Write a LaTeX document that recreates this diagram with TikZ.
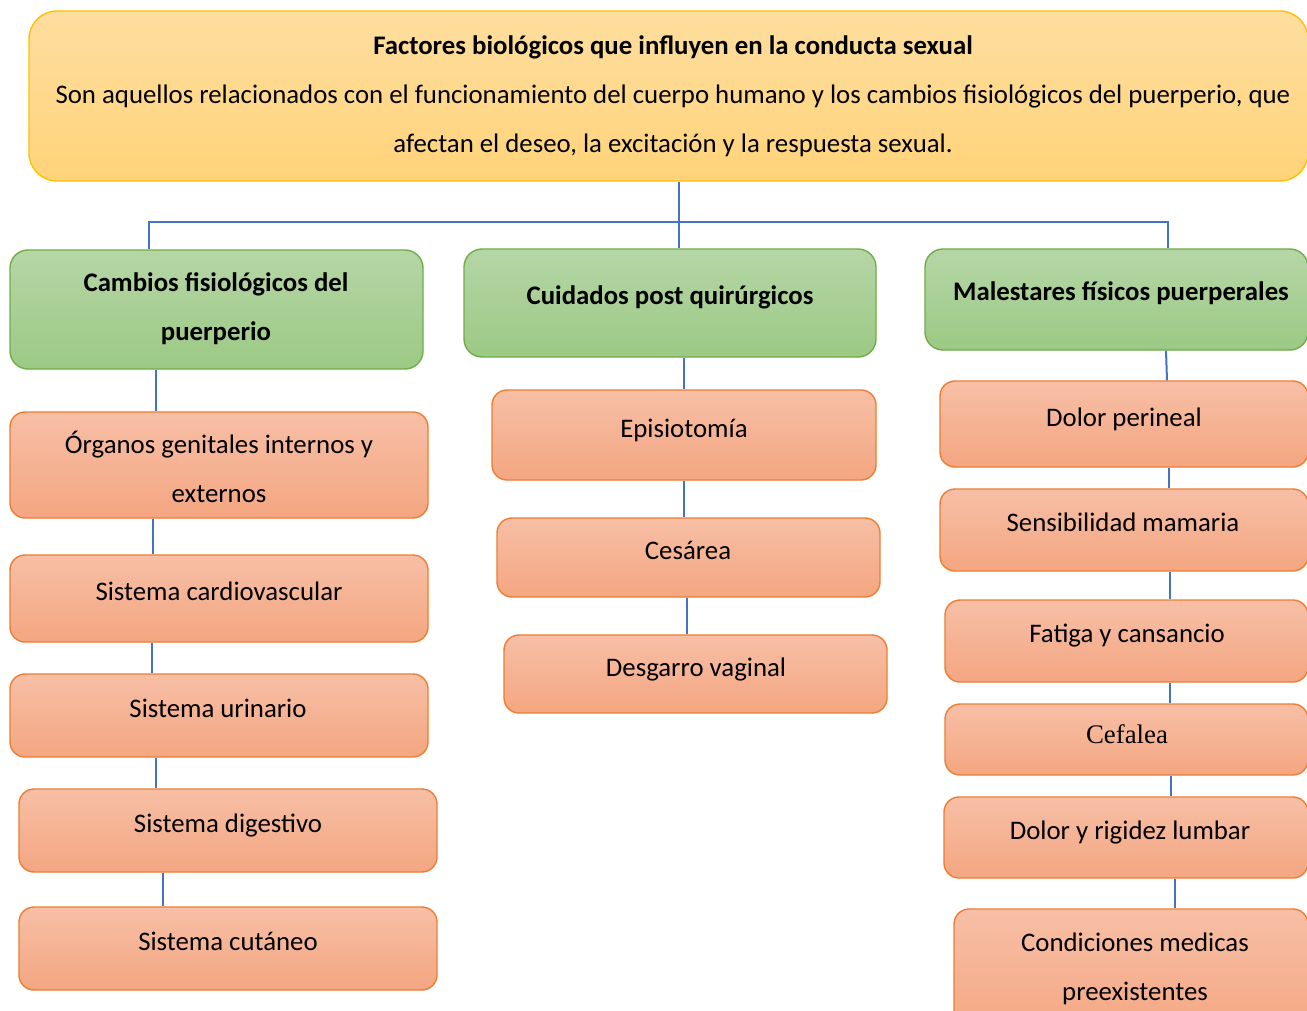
\documentclass[tikz,border=0pt]{standalone}
\usepackage{fontspec}
\setmainfont{Carlito}
\newfontfamily\timesf{Liberation Serif}
\definecolor{topT}{HTML}{FEDE9F}
\definecolor{topB}{HTML}{FFD37A}
\definecolor{topD}{HTML}{FFC000}
\definecolor{grT}{HTML}{B5D6A6}
\definecolor{grB}{HTML}{9CC985}
\definecolor{grD}{HTML}{70AD47}
\definecolor{orT}{HTML}{F7BFA6}
\definecolor{orB}{HTML}{F4A681}
\definecolor{orD}{HTML}{ED7D31}
\definecolor{conblue}{HTML}{4472C4}
\newcommand{\fsz}{\fontsize{26.8}{49}\selectfont}
\begin{document}
\begin{tikzpicture}[x=1pt,y=-1pt,
  box/.style={inner sep=0pt, line width=1.4pt, rounded corners=#1},
  topbox/.style={box=28pt, draw=topD, top color=topT, bottom color=topB},
  gbox/.style={box=18pt, draw=grD, top color=grT, bottom color=grB},
  obox/.style={box=15pt, draw=orD, top color=orT, bottom color=orB},
  txt/.style={inner sep=0pt, align=center, font=\fsz},
  one/.style={txt, text height=20pt, text depth=4pt},
  conn/.style={draw=conblue, line width=2pt}]
\useasboundingbox (0,0) rectangle (1307,1011);
\clip (0,0) rectangle (1307,1011);
% boxes
\node[topbox, minimum width=1279pt, minimum height=170pt] (top) at (668.5,96) {};
\node[gbox, minimum width=413pt, minimum height=119pt] (g1) at (216.5,309.5) {};
\node[gbox, minimum width=412pt, minimum height=108pt] (g2) at (670,303) {};
\node[gbox, minimum width=383pt, minimum height=101pt] (g3) at (1116.5,299.5) {};
\node[obox, minimum width=418pt, minimum height=106pt] (o1) at (219,465) {};
\node[obox, minimum width=418pt, minimum height=87pt] (o2) at (219,598.5) {};
\node[obox, minimum width=418pt, minimum height=83pt] (o3) at (219,715.5) {};
\node[obox, minimum width=418pt, minimum height=83pt] (o4) at (228,830.5) {};
\node[obox, minimum width=418pt, minimum height=83pt] (o5) at (228,948.5) {};
\node[obox, minimum width=384pt, minimum height=90pt] (m1) at (684,435) {};
\node[obox, minimum width=383pt, minimum height=79pt] (m2) at (688.5,557.5) {};
\node[obox, minimum width=383pt, minimum height=78pt] (m3) at (695.5,674) {};
\node[obox, minimum width=368pt, minimum height=86pt] (r1) at (1124,424) {};
\node[obox, minimum width=368pt, minimum height=82pt] (r2) at (1124,530) {};
\node[obox, minimum width=363pt, minimum height=82pt] (r3) at (1126.5,641) {};
\node[obox, minimum width=363pt, minimum height=71pt] (r4) at (1126.5,739.5) {};
\node[obox, minimum width=364pt, minimum height=81pt] (r5) at (1126,837.5) {};
\node[obox, minimum width=354pt, minimum height=130pt] (r6) at (1131,974) {};
% texts
\node[txt] (ttop) at (673,96) {\textbf{Factores biológicos que influyen en la conducta sexual}\\
  Son aquellos relacionados con el funcionamiento del cuerpo humano y los cambios fisiológicos del puerperio, que\\
  afectan el deseo, la excitación y la respuesta sexual.};
\node[txt, font=\fsz\bfseries] (tg1) at (216,308.5) {Cambios fisiológicos del\\puerperio};
\node[one, font=\fsz\bfseries] (tg2) at (670,297) {Cuidados post quirúrgicos};
\node[one, font=\fsz\bfseries] (tg3) at (1121,293) {Malestares físicos puerperales};
\node[txt] (to1) at (219,467) {Órganos genitales internos y\\externos};
\node[one] (to2) at (219,592) {Sistema cardiovascular};
\node[one] (to3) at (218,709) {Sistema urinario};
\node[one] (to4) at (228,824) {Sistema digestivo};
\node[one] (to5) at (228,942) {Sistema cutáneo};
\node[one] (tm1) at (684,429) {Episiotomía};
\node[one] (tm2) at (688,551) {Cesárea};
\node[one] (tm3) at (696,668) {Desgarro vaginal};
\node[one] (tr1) at (1124,418) {Dolor perineal};
\node[one] (tr2) at (1123,523) {Sensibilidad mamaria};
\node[one] (tr3) at (1127,634) {Fatiga y cansancio};
\node[one, font=\fsz\timesf] (tr4) at (1127,735) {Cefalea};
\node[one] (tr5) at (1130,831) {Dolor y rigidez lumbar};
\node[txt] (tr6) at (1135,968.5) {Condiciones medicas\\preexistentes};
% connectors
\coordinate (bus) at (679,222);
\draw[conn] (top.south -| bus) -- (bus);
\draw[conn] (g1.north -| 149,0) |- (bus) -| (g3.north -| 1168,0);
\draw[conn] (bus) -- (g2.north -| bus);
\draw[conn] (g1.south -| 156,0) -- (o1.north -| 156,0);
\draw[conn] (o1.south -| 153,0) -- (o2.north -| 153,0);
\draw[conn] (o2.south -| 152,0) -- (o3.north -| 152,0);
\draw[conn] (o3.south -| 156,0) -- (o4.north -| 156,0);
\draw[conn] (o4.south -| 163,0) -- (o5.north -| 163,0);
\draw[conn] (g2.south -| 684,0) -- (m1.north -| 684,0);
\draw[conn] (m1.south -| 684,0) -- (m2.north -| 684,0);
\draw[conn] (m2.south -| 687,0) -- (m3.north -| 687,0);
\draw[conn] (g3.south -| 1166,0) -- (r1.north -| 1167,0);
\draw[conn] (r1.south -| 1169,0) -- (r2.north -| 1169,0);
\draw[conn] (r2.south -| 1170,0) -- (r3.north -| 1170,0);
\draw[conn] (r3.south -| 1170,0) -- (r4.north -| 1170,0);
\draw[conn] (r4.south -| 1171,0) -- (r5.north -| 1171,0);
\draw[conn] (r5.south -| 1175,0) -- (r6.north -| 1175,0);
\end{tikzpicture}
\end{document}
